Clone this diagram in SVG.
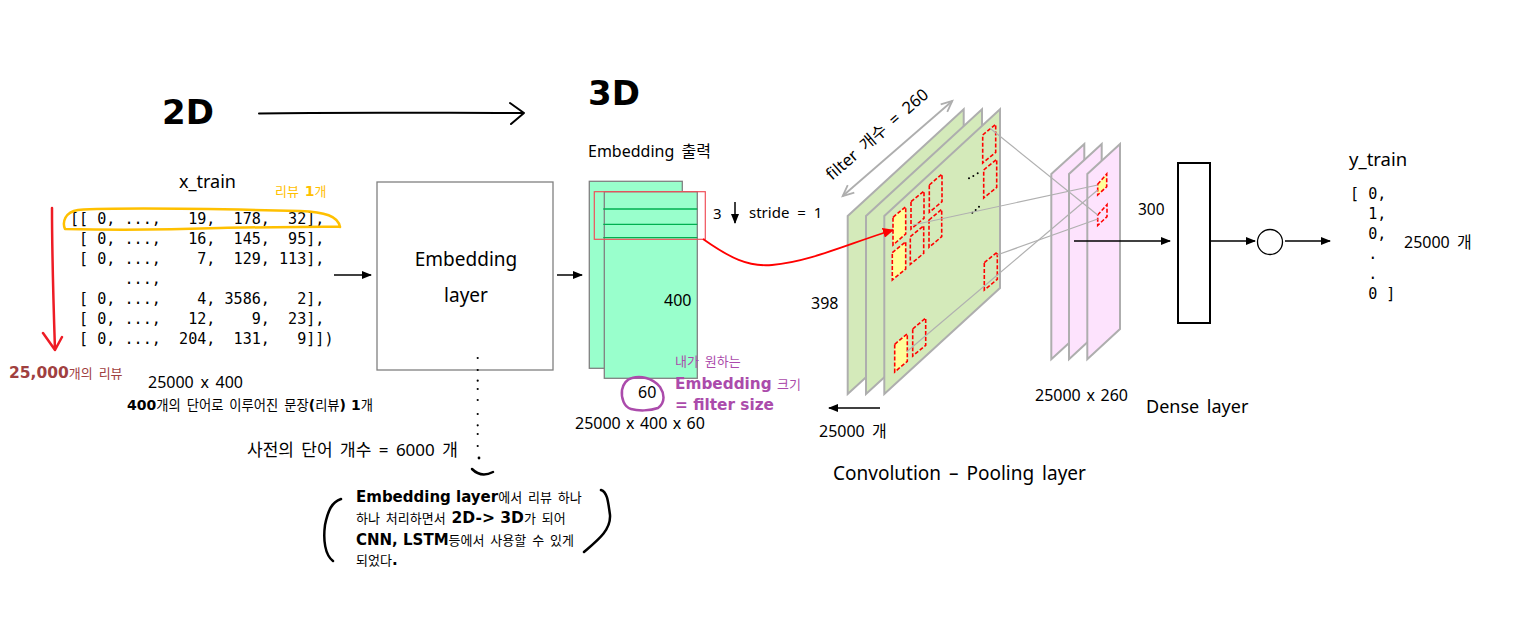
<svg xmlns="http://www.w3.org/2000/svg" width="1526" height="621" viewBox="0 0 1526 621">
<style>
text{font-family:"Noto Sans","Noto Sans CJK KR",sans-serif;fill:#000;font-size:16px;white-space:pre;word-spacing:3px}
.b{font-family:"DejaVu Sans","Noto Sans CJK KR",sans-serif;font-weight:700;word-spacing:0}
.k{font-family:"Noto Sans CJK KR",sans-serif;font-weight:400;word-spacing:3px}
.m{font-family:"DejaVu Sans Mono",monospace;font-size:15.100px;word-spacing:0}
.emb{fill:#99ffcc;stroke:#808080;stroke-width:1.300}
.gp{fill:#d4eaba;stroke:#aeaeae;stroke-width:2}
.pp{fill:#fde3fd;stroke:#aeaeae;stroke-width:2}
.fy{fill:#ffff99;stroke:#ff0000;stroke-width:1.600;stroke-dasharray:4 2}
.fn{fill:none;stroke:#ff0000;stroke-width:1.600;stroke-dasharray:4 2}
.ln{fill:none;stroke:#000;stroke-width:1.500;marker-end:url(#ah)}
.gl{fill:none;stroke:#b0b0b0;stroke-width:1.200}
.gm{stroke:#00b050;stroke-width:1.300}
.hand{fill:none;stroke-linecap:round;stroke-linejoin:round}
</style>
<defs>
<marker id="ah" markerWidth="10" markerHeight="8" refX="9" refY="4" orient="auto" markerUnits="userSpaceOnUse"><path d="M0,0L10,4L0,8z" fill="#000"/></marker>
<marker id="rh" markerWidth="12" markerHeight="10" refX="10" refY="5" orient="auto" markerUnits="userSpaceOnUse"><path d="M0,0L11,5L0,10z" fill="#ff0000"/></marker>
<marker id="gh" markerWidth="14" markerHeight="12" refX="12" refY="6" orient="auto-start-reverse" markerUnits="userSpaceOnUse"><path d="M1,1L12,6L1,11" fill="none" stroke="#aeaeae" stroke-width="1.800"/></marker>
</defs>

<g id="title-2d"><text class="b" x="162" y="124" style="font-size:34px">2D</text></g>
<g id="title-3d"><text class="b" x="588" y="105" style="font-size:34px">3D</text></g>

<g id="x-train">
<text x="179" y="188" style="font-size:18px">x_train</text>
<text x="275" y="196" style="font-size:13px;fill:#ffc000" class="k">리뷰 <tspan class="b" style="font-size:14px;fill:#ffc000">1</tspan>개</text>
<text class="m" x="70" y="224">[[ 0, ...,   19,  178,  32],</text>
<text class="m" x="70" y="244"> [ 0, ...,   16,  145,  95],</text>
<text class="m" x="70" y="264"> [ 0, ...,    7,  129, 113],</text>
<text class="m" x="70" y="284">      ...,</text>
<text class="m" x="70" y="304"> [ 0, ...,    4, 3586,   2],</text>
<text class="m" x="70" y="324"> [ 0, ...,   12,    9,  23],</text>
<text class="m" x="70" y="344"> [ 0, ...,  204,  131,   9]])</text>
<path class="hand" d="M340,227C338,216 325,212 300,211C220,209 120,207 78,210C65,212 62,222 65,229C110,230 160,230 220,228C260,227 300,227 340,226.500" stroke="#ffc000" stroke-width="2.500"/>
<path class="hand" d="M52,208C52,240 53,290 55,350M43,333L55,350L62,337" stroke="#ee1c25" stroke-width="2.500"/>
<text x="9" y="378" class="b" style="font-size:15.500px;fill:#a04040">25,000<tspan class="k" style="font-size:13px;fill:#a04040">개의 리뷰</tspan></text>
<text x="148" y="388" style="font-size:16px;word-spacing:2.500px">25000 x 400</text>
<text x="127" y="410" class="b" style="font-size:14px">400<tspan class="k" style="font-size:13.300px">개의 단어로 이루어진 문장</tspan>(<tspan class="k" style="font-size:13.300px">리뷰</tspan>) 1<tspan class="k" style="font-size:13.300px">개</tspan></text>
</g>

<g id="embedding-layer">
<rect x="377" y="182" width="176" height="188" fill="#fff" stroke="#808080" stroke-width="1.300"/>
<text x="466" y="266" text-anchor="middle" style="font-size:19px">Embedding</text>
<text x="466" y="302" text-anchor="middle" style="font-size:19px">layer</text>
</g>

<g id="dictionary">
<g fill="#000"><circle cx="477.700" cy="358" r="1.100"/><circle cx="477.700" cy="370" r="1.100"/><circle cx="477.700" cy="380.700" r="1.100"/><circle cx="477.700" cy="389" r="1.100"/><circle cx="477.700" cy="400" r="1.100"/><circle cx="477.700" cy="414" r="1.100"/><circle cx="477.700" cy="425.300" r="1.100"/><circle cx="477.700" cy="434" r="1.100"/><circle cx="477.700" cy="446" r="1.100"/><circle cx="479" cy="458" r="1.400"/></g>
<path class="hand" d="M472,469Q481,478 493,472" stroke="#000" stroke-width="2.500"/>
<text x="247" y="456" style="font-size:17px;word-spacing:3px">사전의 단어 개수 = 6000 개</text>
</g>

<g id="note">
<path class="hand" d="M341,499C332,502 328,510 325,525C323,540 325,555 333,561" stroke="#000" stroke-width="2.500"/>
<path class="hand" d="M601,490C607,492 608,500 610,515C611,530 598,540 584,552" stroke="#000" stroke-width="2.500"/>
<text x="356" y="502" class="b" style="font-size:15px">Embedding layer<tspan class="k" style="font-size:13px">에서 리뷰 하나</tspan></text>
<text x="356" y="523" class="b" style="font-size:15.500px"><tspan class="k" style="font-size:13px">하나 처리하면서 </tspan>2D-&gt; 3D<tspan class="k" style="font-size:13px">가 되어</tspan></text>
<text x="356" y="545" class="b" style="font-size:15px">CNN, LSTM<tspan class="k" style="font-size:13px">등에서 사용할 수 있게</tspan></text>
<text x="356" y="565" class="b" style="font-size:15px"><tspan class="k" style="font-size:13px">되었다</tspan>.</text>
</g>

<g id="embedding-output">
<text x="588" y="157" style="font-size:16px">Embedding 출력</text>
<rect class="emb" x="589.300" y="181.300" width="93" height="187"/>
<rect class="emb" x="604.300" y="191.700" width="93" height="186.600"/>
<line class="gm" x1="603.300" y1="209" x2="697.300" y2="209"/>
<line class="gm" x1="603.300" y1="224.300" x2="697.300" y2="224.300"/>
<line class="gm" x1="603.300" y1="237.700" x2="697.300" y2="237.700"/>
<rect x="594.300" y="191.700" width="111" height="47.600" fill="none" stroke="#f0505a" stroke-width="1.200"/>
<text x="713" y="219" style="font-size:15px">3</text>
<text x="749" y="218" style="font-size:15px;word-spacing:4px">stride = 1</text>
<text x="664" y="306" style="font-size:16px">400</text>
<path class="hand" d="M632,378C640,376 652,377 660,387C664,393 666,402 658,408C650,411 638,411 631,409C624,407 621,398 622,390C623,384 627,379 632,378Z" stroke="#ab4bab" stroke-width="2.500"/>
<text x="638" y="398" style="font-size:16px">60</text>
<text x="675" y="366" class="k" style="font-size:13px;fill:#ab4bab">내가 원하는</text>
<text x="675" y="389" class="b" style="font-size:15.300px;fill:#ab4bab">Embedding <tspan class="k" style="font-size:13px;fill:#ab4bab">크기</tspan></text>
<text x="675" y="410" class="b" style="font-size:15.300px;fill:#ab4bab">= filter size</text>
<text x="575" y="429" style="font-size:16px;word-spacing:1.200px">25000 x 400 x 60</text>
</g>

<g id="convolution">
<polygon class="gp" points="847.700,216 963.700,109.300 963.700,288 847.700,394"/>
<polygon class="gp" points="866,216 982,109.300 982,288 866,394"/>
<polygon class="gp" points="884.300,216 1000,109.300 1000,288 884.300,394"/>
<polygon class="fy" points="893,217.300 905.700,206.700 905.700,234 893,245"/>
<polygon class="fy" points="892.300,252.700 905.700,241.700 905.700,269 892.300,280"/>
<polygon class="fn" points="911,201.700 924,191 924,218.300 911,229"/>
<polygon class="fn" points="910.300,236.700 923.700,225.700 923.700,253.300 910.300,264.300"/>
<polygon class="fn" points="929.300,185 942,174 942,201.700 929.300,212.300"/>
<polygon class="fn" points="929,220 941.700,209.300 941.700,236.700 929,247.300"/>
<polygon class="fn" points="982.700,135 995.700,124.300 995.700,152.300 982.700,163"/>
<polygon class="fn" points="983.700,170 996.700,159.300 996.700,187.300 983.700,198"/>
<polygon class="fn" points="984.300,262.700 997.300,252 997.300,279.300 984.300,290"/>
<polygon class="fy" points="894.700,344.300 907.300,333.700 907.300,361.300 894.700,372"/>
<polygon class="fn" points="912.700,329 925.700,318 925.700,345.300 912.700,356"/>
<g fill="#000"><circle cx="969" cy="178.300" r="1"/><circle cx="973.300" cy="176" r="1"/><circle cx="977.700" cy="173.300" r="1"/><circle cx="972.300" cy="212.700" r="1"/><circle cx="975.700" cy="210" r="1"/><circle cx="979" cy="206.700" r="1"/></g>
<line x1="842.700" y1="196" x2="952.300" y2="101" stroke="#aeaeae" stroke-width="1.800" marker-start="url(#gh)" marker-end="url(#gh)"/>
<text transform="translate(832,181) rotate(-41)" style="font-size:16.500px;word-spacing:4px">filter 개수 = 260</text>
<text x="811" y="309" style="font-size:16px">398</text>
<text x="819" y="437" style="font-size:16px">25000 개</text>
<text x="833" y="480" style="font-size:19px">Convolution – Pooling layer</text>
</g>

<g id="pooling">
<polygon class="pp" points="1051.300,174 1084.300,144 1084.300,329 1051.300,359.300"/>
<polygon class="pp" points="1069,174 1101.700,144 1101.700,329 1069,359.300"/>
<polygon class="pp" points="1087.300,174 1120,144 1120,329 1087.300,359.300"/>
<polygon class="fy" points="1097.700,184.300 1106.700,174 1106.700,186.700 1097.700,195"/>
<polygon class="fn" points="1097.700,215 1107,204.700 1107,216.700 1097.700,225.300"/>
<text x="1035" y="401" style="font-size:16px;word-spacing:1.500px">25000 x 260</text>
</g>

<g id="dense-layer">
<rect x="1178" y="163" width="32" height="160" fill="#fff" stroke="#000" stroke-width="2"/>
<text x="1138" y="215" style="font-size:15.500px">300</text>
<text x="1146" y="413" style="font-size:18px">Dense layer</text>
</g>

<g id="output-node"><circle cx="1270" cy="242" r="12.500" fill="#fff" stroke="#000" stroke-width="1.300"/></g>

<g id="y-train">
<text x="1349" y="166" style="font-size:18.500px">y_train</text>
<text class="m" x="1350" y="199">[ 0,</text>
<text class="m" x="1350" y="219">  1,</text>
<text class="m" x="1350" y="239">  0,</text>
<text class="m" x="1350" y="259">  .</text>
<text class="m" x="1350" y="279">  .</text>
<text class="m" x="1350" y="299">  0 ]</text>
<text x="1404" y="248" style="font-size:16px">25000 개</text>
</g>

<g id="connectors">
<path class="hand" d="M259,113.500C340,112 440,113 524,113M510,103L524,113L511,124" stroke="#000" stroke-width="2"/>
<line class="ln" x1="334" y1="275" x2="371" y2="275"/>
<line class="ln" x1="557" y1="275" x2="582" y2="275"/>
<line class="ln" x1="735" y1="202" x2="735" y2="223"/>
<line class="ln" x1="880" y1="408" x2="829" y2="408"/>
<line class="ln" x1="1074" y1="241" x2="1170" y2="241"/>
<line class="ln" x1="1210" y1="241" x2="1255" y2="241"/>
<line class="ln" x1="1285" y1="241" x2="1330" y2="241"/>
<path d="M703,239C730,258 748,267 772,265C810,262 850,243 893,230" fill="none" stroke="#ff0000" stroke-width="1.800" marker-end="url(#rh)"/>
<line class="gl" x1="990" y1="128.300" x2="1097.700" y2="215"/>
<line class="gl" x1="913" y1="225" x2="1097.700" y2="185"/>
<line class="gl" x1="997" y1="255" x2="1097.700" y2="219"/>
<line class="gl" x1="906.700" y1="351.700" x2="1097.700" y2="190"/>
</g>
</svg>
